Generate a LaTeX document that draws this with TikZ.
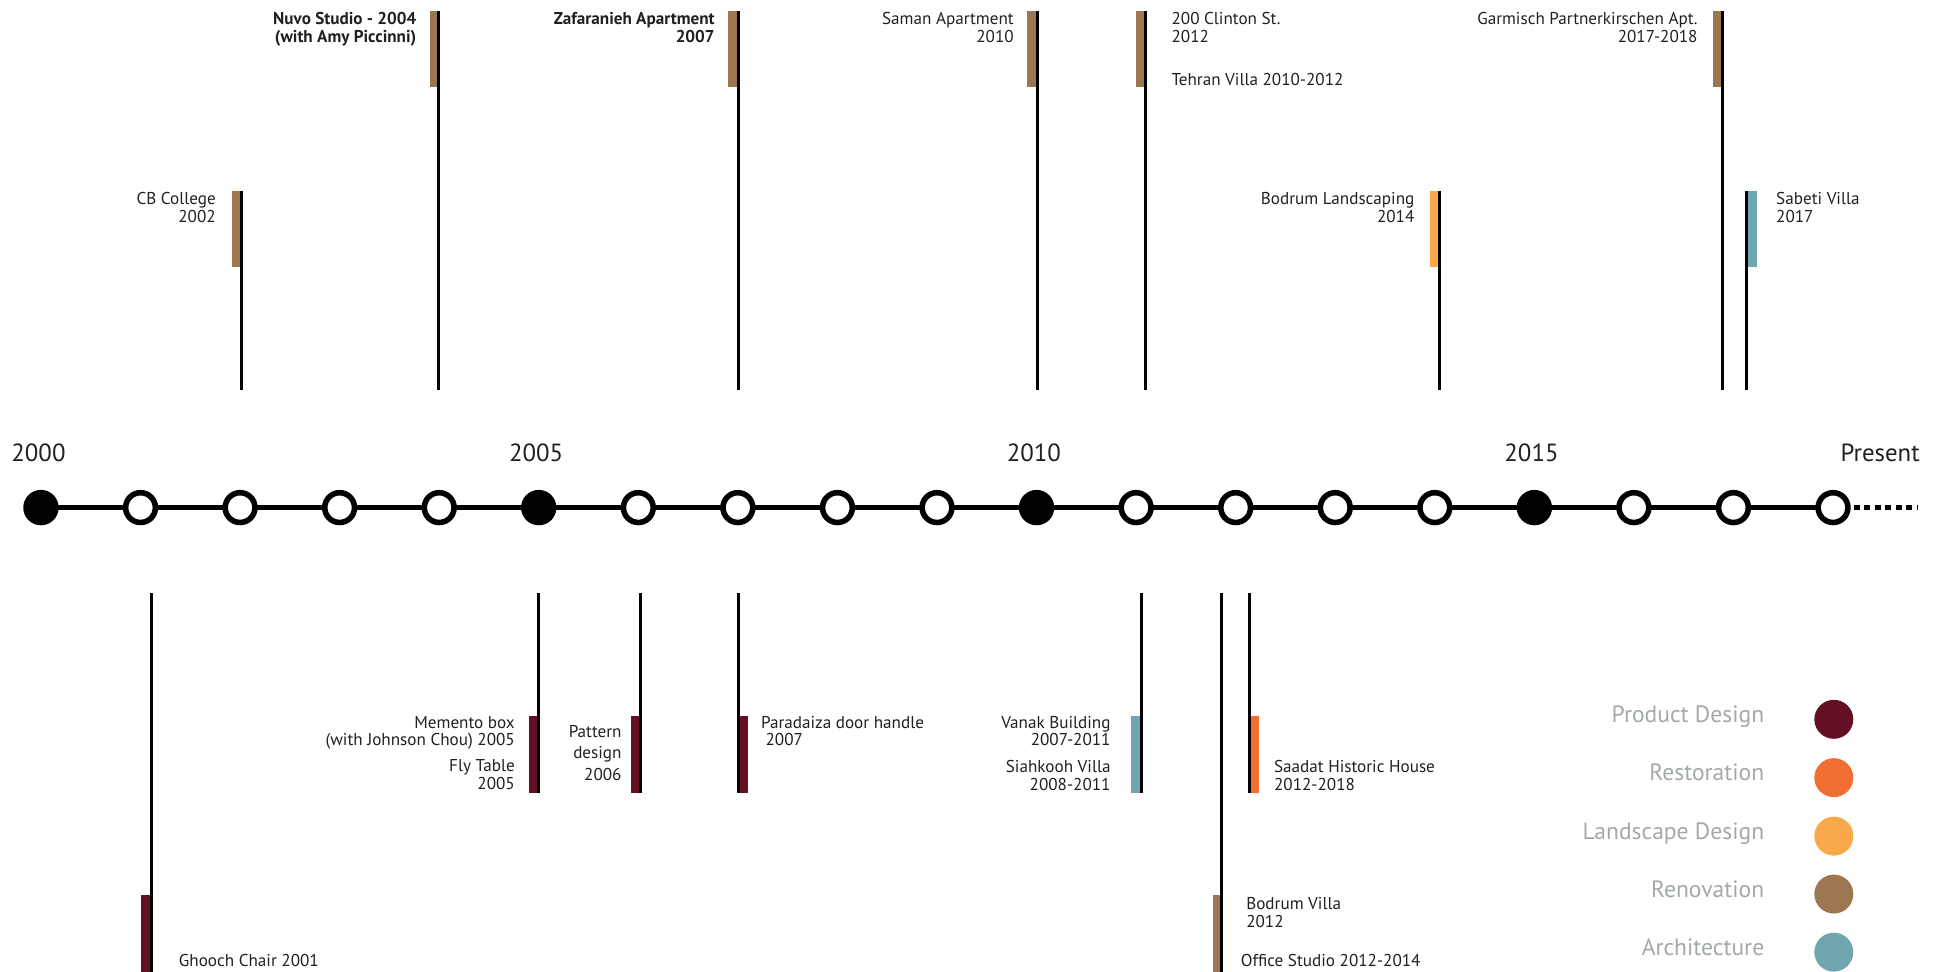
\documentclass[tikz,border=0pt]{standalone}
\usepackage{fontspec}
\setmainfont{PT Sans}
\usetikzlibrary{backgrounds}

\definecolor{product}{HTML}{650F25}
\definecolor{restor}{HTML}{F26F33}
\definecolor{landsc}{HTML}{F9A94A}
\definecolor{renov}{HTML}{9C7551}
\definecolor{archi}{HTML}{6FA6B0}
\definecolor{legendgray}{HTML}{A3A8AB}
\definecolor{ink}{HTML}{231F20}

\begin{document}
\begin{tikzpicture}[x=1pt, y=-1pt,
  yearlbl/.style={font=\fontsize{20}{24}\selectfont, text=ink, inner sep=0pt},
  yearmark/.style={circle, draw, line width=4.5pt, minimum size=24pt, inner sep=0pt},
  stem/.style={line width=2.2pt},
  lbl/.style={font=\fontsize{13.8}{14}\selectfont, text=ink, inner sep=0pt},
  lblr/.style={lbl, anchor=base east, align=right},
  lbll/.style={lbl, anchor=base west, align=left},
  lgd/.style={font=\fontsize{19}{24}\selectfont, text=legendgray, anchor=mid east, inner sep=0pt},
  lgdot/.style={circle, minimum size=31.4pt, inner sep=0pt}]

\useasboundingbox (0,0) rectangle (1568,783);

% Year markers
\foreach \i in {0,...,18}{
  \pgfmathtruncatemacro\r{mod(\i,5)}
  \ifnum\r=0 \def\f{black}\else\def\f{white}\fi
  \node[yearmark, fill=\f] (y\i) at ({33+80.22*\i},409) {};
}

% Timeline
\begin{pgfonlayer}{background}
  \draw[line width=4pt] (y0.center) -- (y18.center);
\end{pgfonlayer}
\draw[line width=4pt, dash pattern=on 5pt off 3.5pt] ([xshift=2.25pt]y18.east) -- ++(52,0);

% Year labels
\node[yearlbl, anchor=base] (l2000) at (31,372) {2000};
\node[yearlbl, anchor=base] (l2005) at (432,372) {2005};
\node[yearlbl, anchor=base] (l2010) at (833,372) {2010};
\node[yearlbl, anchor=base] (l2015) at (1234,372) {2015};
\node[yearlbl, anchor=base east] (lnow) at (1547,372) {Present};

% Projects above the line (base = last line)
\fill[renov] (187,154) rectangle (193.5,215.5);
\draw[stem] (194.4,154) -- (194.4,314);
\node[lblr] (cb) at (174,179) {CB College\\2002};

\fill[renov] (346.5,9) rectangle (352.6,70.5);
\draw[stem] (353.6,9) -- (353.6,314);
\node[lblr, font=\fontsize{13.8}{14}\selectfont\bfseries] (nuvo) at (335.6,34) {Nuvo Studio - 2004\\(with Amy Piccinni)};

\fill[renov] (586.7,9) rectangle (593.9,70.5);
\draw[stem] (595,9) -- (595,314);
\node[lblr, font=\fontsize{13.8}{14}\selectfont\bfseries] (zafar) at (576,34) {Zafaranieh Apartment\\2007};

\fill[renov] (827.4,9) rectangle (834.6,70.5);
\draw[stem] (835.7,9) -- (835.7,314);
\node[lblr] (saman) at (817,34) {Saman Apartment\\2010};

\fill[renov] (915.4,9) rectangle (921.9,70.5);
\draw[stem] (922.9,9) -- (922.9,314);
\node[lbll] (clinton) at (943.8,34) {200 Clinton St.\\2012};
\node[lbll] (tehran) at (943.8,69) {Tehran Villa 2010-2012};

\fill[landsc] (1152.4,154) rectangle (1158.8,215.5);
\draw[stem] (1159.8,154) -- (1159.8,314);
\node[lblr] (bodruml) at (1139.8,179) {Bodrum Landscaping\\2014};

\fill[renov] (1380.3,9) rectangle (1386.8,70.5);
\draw[stem] (1388,9) -- (1388,314);
\node[lblr] (garmisch) at (1368,34) {Garmisch Partnerkirschen Apt.\\2017-2018};

\fill[archi] (1408.3,154) rectangle (1415.9,215.5);
\draw[stem] (1407.3,154) -- (1407.3,314);
\node[lbll] (sabeti) at (1431,179) {Sabeti Villa\\2017};

% Projects below the line
\fill[product] (113.7,721) rectangle (120.9,783);
\draw[stem] (122,478) -- (122,783);
\node[lbll] (ghooch) at (144,779) {Ghooch Chair 2001};

\fill[product] (426.3,577) rectangle (432.7,638.8);
\draw[stem] (433.8,478) -- (433.8,638.8);
\node[lblr] (memento) at (415,601) {Memento box\\(with Johnson Chou) 2005};
\node[lblr] (fly) at (415,636) {Fly Table\\2005};

\fill[product] (508.3,577) rectangle (514.8,638.8);
\draw[stem] (516,478) -- (516,638.8);
\node[lblr, font=\fontsize{13.8}{17}\selectfont] (pattern) at (501,628.5) {Pattern\\design\\2006};

\fill[product] (596.3,577) rectangle (602.7,638.8);
\draw[stem] (595.1,478) -- (595.1,638.8);
\node[lbll] (door) at (613,601) {Paradaiza door handle\\\ 2007};

\fill[archi] (911.2,577) rectangle (919,638.8);
\draw[stem] (920,478) -- (920,638.8);
\node[lblr] (vanak) at (895,600.8) {Vanak Building\\2007-2011};
\node[lblr] (siah) at (895,636.8) {Siahkooh Villa\\2008-2011};

\fill[renov] (977.7,721) rectangle (983.4,783);
\draw[stem] (984.5,478) -- (984.5,783);
\node[lbll] (bodrumv) at (1004,747) {Bodrum Villa\\2012};
\node[lbll] (office) at (999.7,779) {Office Studio 2012-2014};

\fill[restor] (1008,577) rectangle (1014.5,638.8);
\draw[stem] (1006.8,478) -- (1006.8,638.8);
\node[lbll] (saadat) at (1026.4,636.8) {Saadat Historic House\\2012-2018};

% Legend
\foreach \c/\t/\yy in {product/Product Design/579.6, restor/Restoration/626.6,
    landsc/Landscape Design/673.7, renov/Renovation/720.4, archi/Architecture/767.2}{
  \node[lgdot, fill=\c] (k\c) at (1477.6,\yy) {};
  \node[lgd] (t\c) at (1421.7,\yy) {\t};
}

\end{tikzpicture}
\end{document}
